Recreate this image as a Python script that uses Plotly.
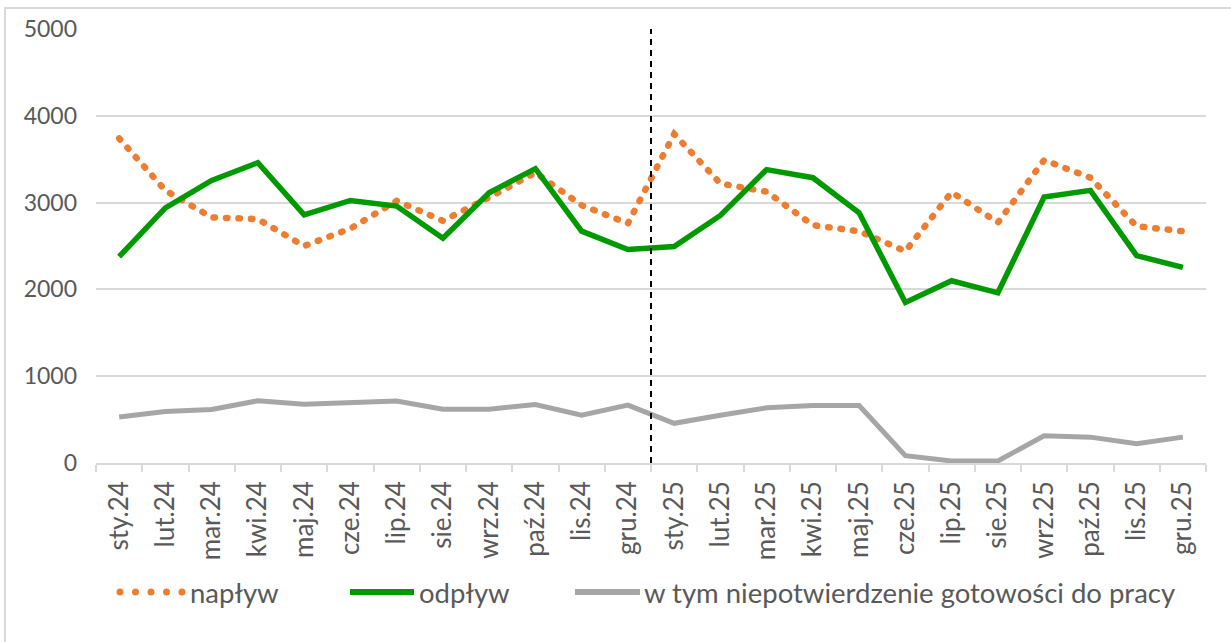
import plotly.graph_objects as go

categories = ["sty.24", "lut.24", "mar.24", "kwi.24", "maj.24", "cze.24", "lip.24", "sie.24",
              "wrz.24", "paź.24", "lis.24", "gru.24", "sty.25", "lut.25", "mar.25", "kwi.25",
              "maj.25", "cze.25", "lip.25", "sie.25", "wrz.25", "paź.25", "lis.25", "gru.25"]

naplyw = [3740, 3140, 2830, 2810, 2500, 2700, 3020, 2790, 3060, 3345, 2970, 2760,
          3790, 3220, 3125, 2740, 2670, 2440, 3120, 2770, 3490, 3287, 2728, 2670]
odplyw = [2378, 2940, 3256, 3460, 2859, 3025, 2960, 2590, 3114, 3391, 2671, 2459,
          2493, 2852, 3380, 3287, 2882, 1850, 2100, 1961, 3064, 3141, 2389, 2254]
niepotw = [531, 593, 616, 717, 678, 702, 713, 620, 620, 674, 550, 667,
           457, 550, 636, 663, 663, 85, 23, 23, 314, 298, 221, 298]

series_names = ["napływ", "odpływ", "w tym niepotwierdzenie gotowości do pracy"]
y_ticks = [0, 1000, 2000, 3000, 4000, 5000]

ORANGE = "#ED7D31"
GREEN = "#009A00"
GRAY = "#A6A6A6"
TXT = "#595959"
GRID = "#D9D9D9"
FONT = "Lato"

W, H = 1231, 642
# plot area in page coordinates: x 96..1206, y 29..463
PL, PR, PT, PB = 96, 1206, 29, 463
L, T, R, B = PL, PT, W - PR, H - PB
pw, ph = PR - PL, PB - PT


def px(x):
    return (x - PL) / pw


def py(y):
    return (PB - y) / ph


fig = go.Figure()
fig.add_trace(go.Scatter(x=categories, y=niepotw, mode="lines", name=series_names[2],
                         line=dict(color=GRAY, width=5), showlegend=False))
fig.add_trace(go.Scatter(x=categories, y=naplyw, mode="lines", name=series_names[0],
                         line=dict(color=ORANGE, width=6.5, dash="1.5px,11px"), showlegend=False))
fig.add_trace(go.Scatter(x=categories, y=odplyw, mode="lines", name=series_names[1],
                         line=dict(color=GREEN, width=5.5), showlegend=False))

shapes = []
# outer frame
shapes.append(dict(type="rect", xref="paper", yref="paper",
                   x0=px(5), x1=px(1260), y0=py(680), y1=py(8),
                   line=dict(color=GRID, width=2), fillcolor="rgba(0,0,0,0)", layer="below"))
# vertical dashed separator between years
shapes.append(dict(type="line", xref="x", yref="y", x0=11.5, x1=11.5, y0=0, y1=5050,
                   line=dict(color="black", width=2, dash="6px,5px")))

# manual legend
LEG_Y = 592
leg_y = py(LEG_Y)
for i in range(5):
    cx = 120 + i * 15.5
    shapes.append(dict(type="circle", xref="paper", yref="paper",
                       x0=px(cx - 3.5), x1=px(cx + 3.5), y0=py(LEG_Y + 3.5), y1=py(LEG_Y - 3.5),
                       fillcolor=ORANGE, line=dict(width=0)))
shapes.append(dict(type="line", xref="paper", yref="paper", x0=px(350), x1=px(414),
                   y0=leg_y, y1=leg_y, line=dict(color=GREEN, width=6)))
shapes.append(dict(type="line", xref="paper", yref="paper", x0=px(575), x1=px(640),
                   y0=leg_y, y1=leg_y, line=dict(color=GRAY, width=6)))

annotations = []
for name, x0 in zip(series_names, [188, 417, 642]):
    annotations.append(dict(xref="paper", yref="paper", x=px(x0), y=leg_y, text=name,
                            showarrow=False, xanchor="left", yanchor="middle",
                            font=dict(family=FONT, size=27.5, color=TXT)))

fig.update_layout(
    width=W, height=H,
    margin=dict(l=L, r=R, t=T, b=B, pad=0),
    paper_bgcolor="white", plot_bgcolor="white",
    showlegend=False,
    font=dict(family=FONT, color=TXT),
    shapes=shapes,
    annotations=annotations,
    xaxis=dict(type="category", range=[-0.5, 23.5], tickangle=-90,
               tickson="boundaries", ticks="outside", ticklen=7, tickcolor=GRID, tickwidth=1.5,
               showline=True, linecolor=GRID, linewidth=1.5, showgrid=False,
               tickfont=dict(family=FONT, size=26, color=TXT), ticklabelstandoff=6),
    yaxis=dict(range=[0, 5000], tickvals=y_ticks, showgrid=True, gridcolor=GRID, gridwidth=2,
               zeroline=False, showline=False, ticks="",
               tickfont=dict(family=FONT, size=23, color=TXT), ticklabelstandoff=18),
)

post = (
    "document.body.style.margin='0';document.body.style.overflow='hidden';"
    "var tr=document.querySelectorAll('.scatterlayer .trace');"
    "if(tr.length>1){tr[1].querySelectorAll('path.js-line').forEach(function(p){"
    "p.style.strokeLinecap='round';});}"
)
fig.write_html("out.html", config={"displayModeBar": False}, post_script=post)
